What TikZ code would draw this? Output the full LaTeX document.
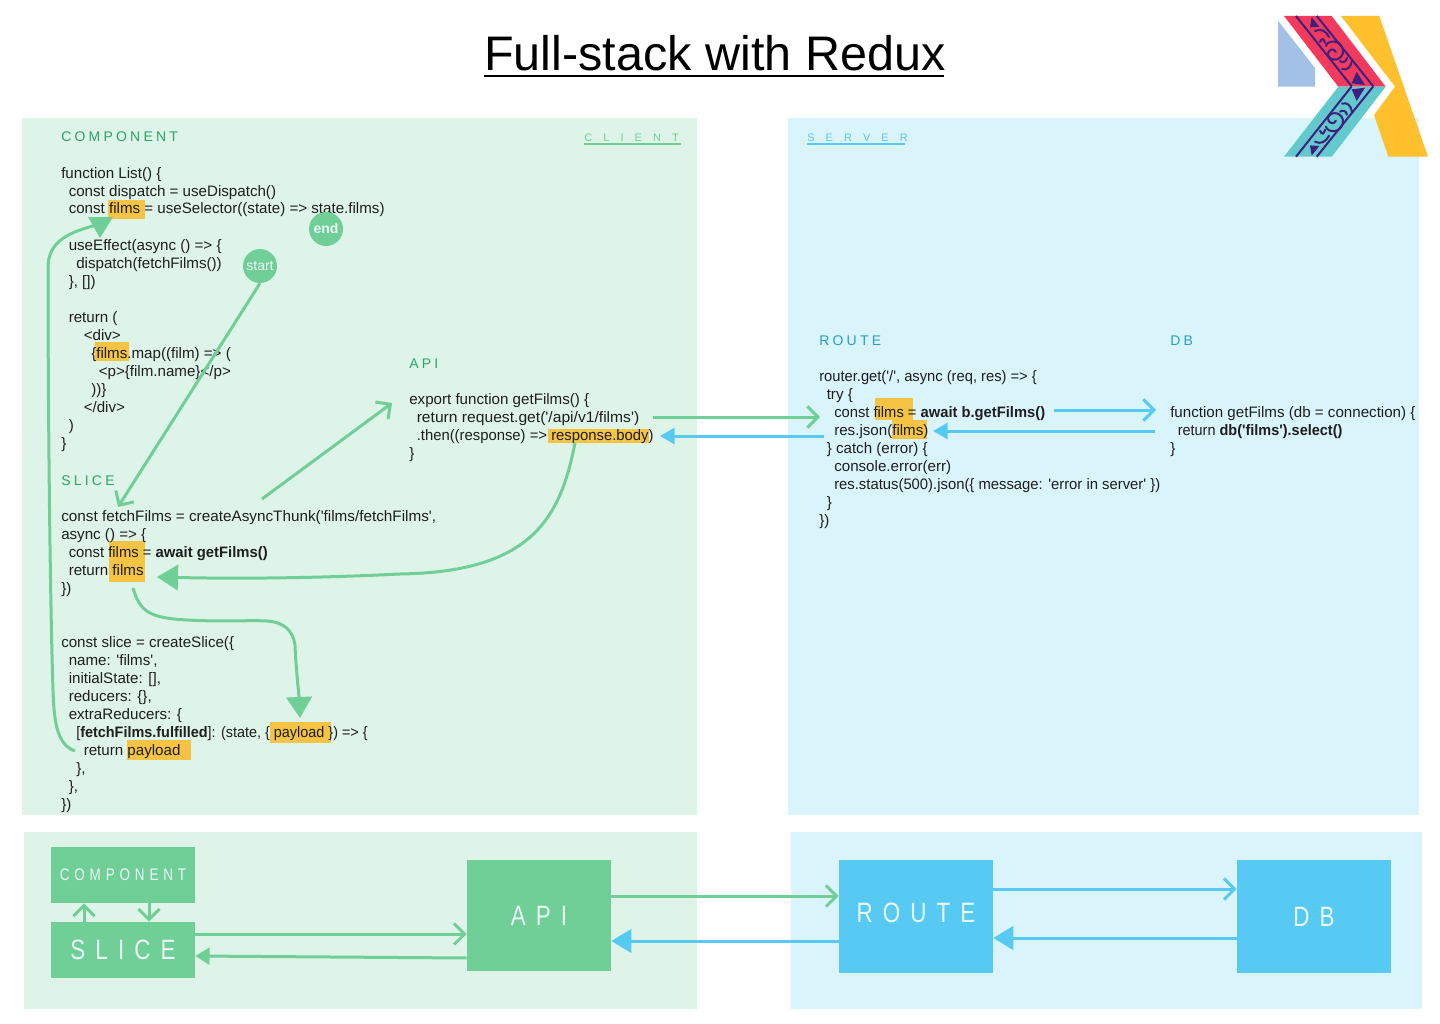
\documentclass[tikz,border=0pt]{standalone}
\usepackage{fontspec}
\usetikzlibrary{arrows.meta,fit}
\newfontfamily\codef[Ligatures=Common]{Liberation Sans}
\newfontfamily\labelf[LetterSpace=23]{Liberation Sans}
\newfontfamily\sidef[LetterSpace=102]{Liberation Sans}
\newfontfamily\bigf[LetterSpace=36,FakeStretch=0.8]{Liberation Sans}
\newfontfamily\midf[LetterSpace=29,FakeStretch=0.8]{Liberation Sans}
\definecolor{grn}{HTML}{70CF97}
\definecolor{lgrn}{HTML}{DEF4E8}
\definecolor{dgrn}{HTML}{2BA566}
\definecolor{blu}{HTML}{56CAF3}
\definecolor{lblu}{HTML}{D9F4FB}
\definecolor{dblu}{HTML}{2A9DC9}
\definecolor{hlc}{HTML}{F5C445}
\definecolor{ink}{HTML}{1E1E1E}
\definecolor{lred}{HTML}{F23B5C}
\definecolor{lteal}{HTML}{62C9CC}
\definecolor{lyel}{HTML}{FFC02E}
\definecolor{lsky}{HTML}{A3C1E6}
\definecolor{lpur}{HTML}{3F1F80}
\definecolor{boxt}{HTML}{EAF8F6}
\tikzset{
 code/.style={anchor=base west,inner sep=0pt,text=ink,font=\codef\fontsize{11.35pt}{13pt}\selectfont},
 hilite/.style={fill=hlc,inner sep=0pt,draw=none},
 tag/.style={anchor=base west,inner sep=0pt,font=\labelf\fontsize{10.5pt}{12pt}\selectfont},
 side/.style={anchor=base west,inner sep=0pt,font=\sidef\fontsize{8.2pt}{10pt}\selectfont},
 dot/.style={circle,fill=grn,minimum size=25.5pt,inner sep=0pt,text=boxt,font=\codef\fontsize{10.5pt}{12pt}\selectfont},
 gbox/.style={fill=grn,text=boxt,inner sep=0pt},
 bbox/.style={fill=blu,text=boxt,inner sep=0pt},
 gl/.style={draw=grn,line width=2.25pt},
 bl/.style={draw=blu,line width=2.25pt},
 open/.style={-{Straight Barb[length=8pt,width=16pt,line width=2.25pt]}},
 big head/.style={-{Triangle[length=15.75pt,width=19pt]}},
 solid head/.style={-{Triangle[length=15pt,width=17.5pt]}},
 code head/.style={-{Triangle[length=11pt,width=12pt]}},
 small head/.style={-{Triangle[length=10.7pt,width=12.5pt]}},
 band/.style={draw=lpur,line width=1.5pt},
}
\newcommand\cl[4]{\node[code] (#1) at (#2,#3+5) {#4};}
\newcommand\hl[5]{\node[hilite,fit={(#2,#3)(#4,#5)}] (#1) {};}
\newcommand\logoband{%
  \draw[band] (1296,16) -- (1351.7,86.35);
  \draw[band] (1316.7,16) -- (1373.3,86.35);
  \fill[lpur] (1311.7,17) -- (1319.3,26.7) -- (1310,27.3) -- cycle;
  \fill[lpur] (1356.7,71.7) -- (1365,85) -- (1351.7,83.3) -- cycle;
  \draw[lpur,line width=1.5pt,line cap=round] (1326,46) .. controls (1327,40) and (1341,39) .. (1343,50) .. controls (1344,60) and (1331,63) .. (1328,55) .. controls (1327,50) and (1334,47) .. (1336,52);
  \draw[lpur,line width=1.5pt,line cap=round] (1315,31) .. controls (1321,28) and (1326,31) .. (1329,37);
  \draw[lpur,line width=1.5pt,line cap=round] (1320,42) .. controls (1322,37) and (1324,39) .. (1325,43);
  \draw[lpur,line width=1.5pt,line cap=round] (1342,69) .. controls (1347,71) and (1351,67) .. (1352,61);
  \draw[lpur,line width=1.5pt,line cap=round] (1340,61) .. controls (1343,63) and (1346,62) .. (1347,58);
}
\begin{document}
\begin{tikzpicture}[x=0.75pt,y=-0.75pt]
\useasboundingbox (0,0) rectangle (1440,1024);
% panels
\fill[lgrn] (22,118) rectangle (697,815);
\fill[lblu] (788,118) rectangle (1419,815);
\fill[lgrn] (24,832) rectangle (697,1009);
\fill[lblu] (791,832) rectangle (1422,1009);
% title
\node[anchor=base west,inner sep=0pt,text=black,font=\codef\fontsize{36.4pt}{40pt}\selectfont] (title) at (484,71) {Full-stack with Redux};
\draw[black,line width=1.6pt] (484,76) -- (944,76);
% logo
\fill[lsky] (1278,20.7) -- (1315,68) -- (1315,86.7) -- (1278,86.7) -- cycle;
\fill[lred] (1284,16) -- (1331.7,16) -- (1385.7,86.7) -- (1338.3,86.7) -- cycle;
\fill[lteal] (1338.3,86.7) -- (1385.7,86.7) -- (1331.7,156.7) -- (1284,156.7) -- cycle;
\fill[lyel] (1341,16) -- (1379.3,16) -- (1428,156.7) -- (1388.3,156.7) -- (1374,115) -- (1395,86.7) -- cycle;
\logoband
\begin{scope}[shift={(0,172.7)},yscale=-1]
\logoband
\end{scope}
% highlights
\hl{hA}{108}{200}{145}{219}
\hl{hB}{95}{342}{129}{361}
\hl{hC}{109}{541}{145}{582}
\hl{hD}{270}{722}{331}{743}
\hl{hE}{127}{740}{191}{760}
\hl{hF}{548}{429}{649}{443}
\hl{hG}{874.5}{398}{913}{420}
\hl{hH}{892}{420}{926.5}{439}
% labels
\node[tag,text=dgrn] (lbComp) at (61,142) {COMPONENT};
\node[tag,text=dgrn] (lbSlice) at (61,485) {SLICE};
\node[tag,text=dgrn] (lbApi) at (409,368) {API};
\node[tag,text=dblu] (lbRoute) at (819,345) {ROUTE};
\node[tag,text=dblu] (lbDb) at (1170,345) {DB};
\node[side,text=grn] (lbClient) at (584,142) {CLIENT};
\draw[grn,line width=0.9pt] (584,144) -- (681,144);
\node[side,text=blu] (lbServer) at (807,142) {SERVER};
\draw[blu,line width=0.9pt] (807,144) -- (905,144);
% component code
\cl{a1}{61}{173}{function List() \{}
\cl{a2}{68.5}{191}{const dispatch = useDispatch()}
\cl{a3}{68.5}{209}{const films = useSelector((state) => state.films)}
\cl{a4}{68.5}{245}{useEffect(async () => \{}
\cl{a5}{76}{263}{dispatch(fetchFilms())}
\cl{a6}{68.5}{281}{\}, [])}
\cl{a7}{68.5}{317}{return (}
\cl{a8}{83.5}{335}{<div>}
\cl{a9}{91}{353}{\{films.map((film) => (}
\cl{a10}{98.5}{371}{<p>\{film.name\}</p>}
\cl{a11}{91}{389}{))\}}
\cl{a12}{83.5}{407}{</div>}
\cl{a13}{68.5}{425}{)}
\cl{a14}{61}{443}{\}}
% slice code
\cl{b1}{61}{516}{\scalebox{1.01}[1]{const fetchFilms = createAsyncThunk('films/fetchFilms',}}
\cl{b2}{61}{534}{async () => \{}
\cl{b3}{68.5}{552}{\scalebox{.98}[1]{const films = \textbf{await getFilms()}}}
\cl{b4}{68.5}{570}{return films}
\cl{b5}{61}{588}{\})}
\cl{c1}{61}{642}{const slice = createSlice(\{}
\cl{c2}{68.5}{660}{name: 'films',}
\cl{c3}{68.5}{678}{initialState: [],}
\cl{c4}{68.5}{696}{reducers: \{\},}
\cl{c5}{68.5}{714}{extraReducers: \{}
\cl{c6}{76}{732}{\scalebox{.953}[1]{[\textbf{fetchFilms.fulfilled}]: (state, \{ payload \}) => \{}}
\cl{c7}{83.5}{750}{return payload}
\cl{c8}{76}{768}{\},}
\cl{c9}{68.5}{786}{\},}
\cl{c10}{61}{804}{\})}
% api code
\cl{d1}{409}{399}{export function getFilms() \{}
\cl{d2}{416.5}{417}{\scalebox{1.034}[1]{return request.get('/api/v1/films')}}
\cl{d3}{416.5}{435}{\scalebox{.981}[1]{.then((response) => response.body)}}
\cl{d4}{409}{453}{\}}
% route code
\cl{e1}{819}{376}{\scalebox{.973}[1]{router.get('/', async (req, res) => \{}}
\cl{e2}{826.5}{394}{try \{}
\cl{e3}{834}{412}{\scalebox{.974}[1]{const films = \textbf{await b.getFilms()}}}
\cl{e4}{834}{430}{res.json(films)}
\cl{e5}{826.5}{448}{\} catch (error) \{}
\cl{e6}{834}{466}{console.error(err)}
\cl{e7}{834}{484}{\scalebox{.98}[1]{res.status(500).json(\{ message: 'error in server' \})}}
\cl{e8}{826.5}{502}{\}}
\cl{e9}{819}{520}{\})}
% db code
\cl{f1}{1170}{412}{function getFilms (db = connection) \{}
\cl{f2}{1177.5}{430}{\scalebox{.957}[1]{return \textbf{db('films').select()}}}
\cl{f3}{1170}{448}{\}}
% circles
\node[dot] (endc) at (326,229) {\raisebox{1.5pt}{\textbf{end}}};
\node[dot] (startc) at (260,266) {start};
% coordinates for free ends
\coordinate (sliceIn) at (118,507);
\coordinate (apiOutA) at (262,499);
\coordinate (apiInA) at (392,403);
\coordinate (reqOut) at (653,417);
\coordinate (routeIn) at (820,417);
\coordinate (resOut) at (824,436);
\coordinate (apiBack) at (660,436);
\coordinate (dbOut) at (1054,410);
\coordinate (dbIn) at (1156,410);
\coordinate (dbBack) at (1155,431);
\coordinate (routeBack) at (933,431);
\coordinate (loopA) at (75,751);
\coordinate (loopB) at (100,224);
\coordinate (respA) at (575,443);
\coordinate (respB) at (157,577);
\coordinate (thunkA) at (133,588);
\coordinate (thunkB) at (300,718);
% code connectors
\draw[gl,open] (startc.south) -- (sliceIn);
\draw[gl,open] (apiOutA) -- (apiInA);
\draw[gl,open] (reqOut) -- (routeIn);
\draw[bl,code head] (resOut) -- (apiBack);
\draw[bl,open] (dbOut) -- (dbIn);
\draw[bl,code head] (dbBack) -- (routeBack);
\draw[gl] (loopA) .. controls (58,745) and (54,725) .. (53,690) .. controls (50,600) and (48,400) .. (48,270) .. controls (47,240) and (70,232) .. (loopB);
\fill[grn] (88,217) -- (113,217) -- (100,238) -- cycle;
\draw[gl,big head] (respA) .. controls (560,520) and (530,572) .. (400,574) .. controls (320,578) and (240,579) .. (respB);
\draw[gl,big head] (thunkA) .. controls (140,612) and (150,618) .. (187,620) .. controls (220,622) and (250,620) .. (267,621) .. controls (283,622) and (293,630) .. (295,645) .. controls (296,670) and (299,695) .. (thunkB);
% boxes
\node[gbox,minimum width=108pt,minimum height=42pt] (bComp) at (123,875) {\midf\fontsize{12.6pt}{14pt}\selectfont COMPONENT};
\node[gbox,minimum width=108pt,minimum height=42pt] (bSlice) at (123,950) {\raisebox{-.7pt}{\bigf\fontsize{21pt}{24pt}\selectfont SLICE}};
\node[gbox,minimum width=108pt,minimum height=83.25pt] (bApi) at (539,915.5) {\bigf\fontsize{21pt}{24pt}\selectfont API};
\node[bbox,minimum width=115.5pt,minimum height=84.75pt] (bRoute) at (916,916.5) {\raisebox{5.5pt}{\bigf\fontsize{21pt}{24pt}\selectfont ROUTE}};
\node[bbox,minimum width=115.5pt,minimum height=84.75pt] (bDb) at (1314,916.5) {\bigf\fontsize{21pt}{24pt}\selectfont DB};
% box connectors
\draw[gl,open] (bSlice.north -| 84,0) -- (bComp.south -| 84,0);
\draw[gl,open] (bComp.south -| 149,0) -- (bSlice.north -| 149,0);
\draw[gl,open] (bSlice.east |- 0,934) -- (bApi.west |- 0,934);
\draw[gl,small head] (bApi.west |- 0,958) -- (bSlice.east |- 0,956);
\draw[gl,open] (bApi.east |- 0,896) -- (bRoute.west |- 0,896);
\draw[bl,solid head] (bRoute.west |- 0,941) -- (bApi.east |- 0,941);
\draw[bl,open] (bRoute.east |- 0,889) -- (bDb.west |- 0,889);
\draw[bl,solid head] (bDb.west |- 0,938) -- (bRoute.east |- 0,938);
\end{tikzpicture}
\end{document}
